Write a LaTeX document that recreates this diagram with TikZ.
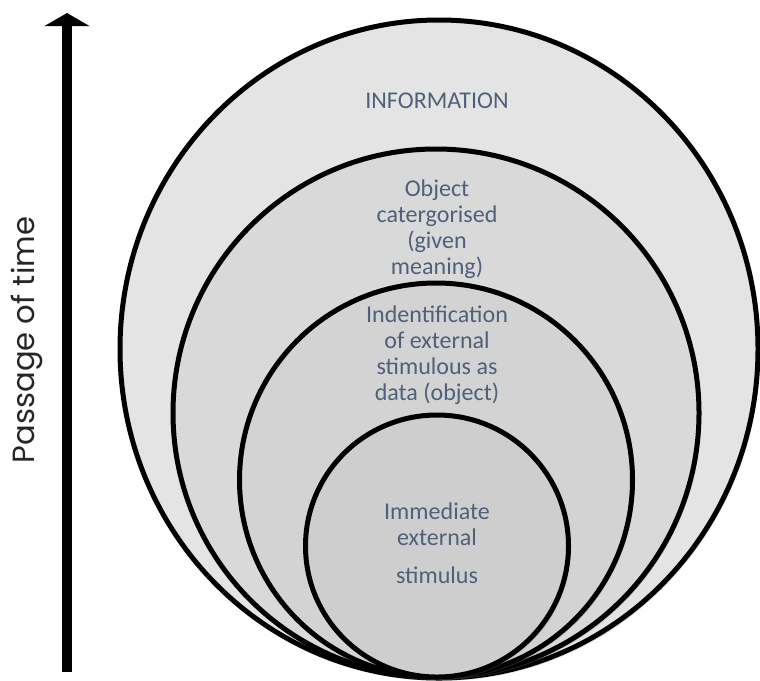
\documentclass[tikz,border=0pt]{standalone}
\usepackage{fontspec}
\setmainfont{Carlito}
\newfontfamily\timefont{Poppins}
\usepackage{tikz}
\usetikzlibrary{arrows.meta,shapes.geometric,shadows}

\definecolor{labelblue}{RGB}{80,96,122}
\definecolor{infofill}{RGB}{228,228,228}
\definecolor{objectfill}{RGB}{217,217,217}
\definecolor{identfill}{RGB}{211,211,211}
\definecolor{stimfill}{RGB}{206,206,206}

\begin{document}
\begin{tikzpicture}[x=0.025cm,y=-0.025cm,
  ring/.style 2 args={draw=black, line width=0.125cm, ellipse, inner sep=0pt,
    minimum width=#1*0.025cm, minimum height=#2*0.025cm,
    drop shadow={shadow xshift=0.05cm, shadow yshift=-0.07cm, opacity=0.3}},
  lbl/.style={text=labelblue, align=center, font=\fontsize{17.1}{18.6}\selectfont},
  timearrow/.style={line width=0.25cm, -{Triangle[width=1.125cm,length=0.33cm]}}]

\useasboundingbox[fill=white] (0,0) rectangle (760,680);

\node(info)[ring={638}{658}, fill=infofill] at (439,349) {};

\node(infolbl)[lbl] at (437,101) {INFORMATION};

\node(object)[ring={526}{528}, fill=objectfill] at (436,413) {};

\node(objectlbl)[lbl] at (437,229) {Object\\catergorised\\(given\\meaning)};

\node(ident)[ring={393}{394}, fill=identfill] at (436,480) {};

\node(identlbl)[lbl] at (437,355) {Indentification\\of external\\stimulous as\\data (object)};

\node(stim)[ring={263}{262}, fill=stimfill] at (437,546) {};

\node(stimlbl)[lbl] at (437,543) {Immediate\\external\\[0.28cm]stimulus};

\node(passage)[rotate=90, text=black!85, font=\timefont\fontsize{21.8}{26}\selectfont] at (27,340) {Passage of time};

\coordinate(tbot) at (67,672);
\coordinate(ttop) at (67,13);

\draw [timearrow] (tbot) -- (ttop);

\end{tikzpicture}
\end{document}
